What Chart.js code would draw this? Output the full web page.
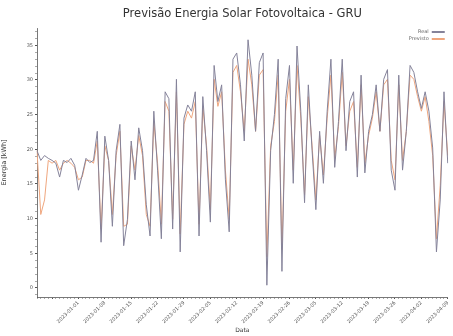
<!DOCTYPE html>
<html>
<head>
<meta charset="utf-8">
<script src="https://cdn.jsdelivr.net/npm/chart.js@4/dist/chart.umd.min.js"></script>
<style>
  html, body { margin: 0; padding: 0; background: #ffffff; }
  #wrap { width: 453px; height: 336px; }
</style>
</head>
<body>
<div id="wrap"><canvas id="c" width="453" height="336"></canvas></div>
<script>
// Daily series: measured energy vs. model forecast (kWh)
const startDay = '2022-12-21';
const seriesNames = ['Real', 'Previsto'];
const chartTitle = 'Previsão Energia Solar Fotovoltaica - GRU';

const real = [
  19.8, 18.4, 19.1, 18.7, 18.4, 18.0, 16.0, 18.4, 18.1, 18.7,
  17.7, 14.1, 16.3, 18.7, 18.1, 18.4, 22.6, 6.6, 21.9, 18.4,
  8.9, 19.8, 23.6, 6.1, 9.9, 21.2, 15.6, 23.1, 19.8, 12.0,
  7.5, 25.5, 17.0, 7.1, 28.3, 27.3, 8.5, 30.1, 5.2, 24.5,
  26.4, 25.5, 28.3, 7.5, 27.6, 19.8, 9.5, 32.1, 26.9, 29.3,
  15.6, 8.1, 33.0, 33.9, 29.3, 21.2, 35.8, 30.7, 22.6, 32.5,
  33.9, 0.4, 19.8, 25.0, 33.0, 2.4, 27.3, 32.1, 15.1, 34.9,
  25.5, 12.3, 29.3, 19.8, 11.3, 22.6, 15.1, 25.5, 33.0, 17.4,
  24.0, 33.0, 19.8, 26.9, 28.3, 16.0, 30.7, 16.6, 22.6, 25.0,
  29.3, 22.6, 30.1, 31.5, 17.0, 14.1, 30.7, 17.0, 22.6, 32.1,
  31.1, 28.3, 25.9, 28.3, 25.5, 20.2, 5.2, 12.7, 28.3, 18.0
];

const previsto = [
  19.8, 10.6, 12.7, 18.4, 18.0, 18.4, 17.0, 18.0, 18.4, 18.0,
  17.4, 15.6, 16.0, 18.4, 18.4, 18.0, 21.2, 8.5, 20.5, 18.4,
  10.6, 19.1, 22.6, 8.9, 9.2, 20.5, 17.0, 22.0, 19.1, 10.6,
  8.9, 24.0, 18.0, 9.2, 26.9, 25.5, 9.9, 28.3, 7.8, 23.6,
  25.5, 24.5, 26.9, 9.2, 26.2, 20.5, 11.3, 30.1, 26.2, 28.3,
  17.0, 9.9, 31.1, 32.1, 28.3, 22.6, 33.0, 29.3, 22.6, 30.7,
  31.5, 4.5, 20.5, 24.0, 30.7, 5.5, 25.5, 30.1, 17.0, 32.1,
  24.5, 13.4, 27.6, 20.5, 12.7, 22.0, 16.3, 24.5, 30.7, 18.7,
  23.3, 31.1, 20.5, 25.5, 26.9, 17.4, 29.3, 18.0, 22.0, 24.5,
  28.3, 22.6, 29.3, 30.1, 18.4, 15.6, 29.3, 18.4, 22.6, 30.7,
  30.1, 27.6, 25.5, 27.6, 24.0, 19.1, 7.1, 14.8, 26.9, 19.1
];

// Major y ticks (labelled) every 5 kWh, minor every 1 kWh
const yMajorStep = 5;
const yRange = [-1.3, 37.5];
// Date labels shown weekly, first one on the 12th day
const firstLabelIndex = 11;
const labelEvery = 7;

function isoDate(d) {
  return d.toISOString().slice(0, 10);
}
const days = [];
{
  const d0 = new Date(startDay + 'T00:00:00Z');
  for (let i = 0; i < real.length; i++) {
    days.push(isoDate(new Date(d0.getTime() + i * 86400000)));
  }
}

const FONT = 'DejaVu Sans';
const colReal = '#85839a';
const colPrev = '#efa67e';

// Title centred over the plot area, legend in its top-right corner
const decorations = {
  id: 'decorations',
  afterDraw(chart) {
    const { ctx, chartArea } = chart;
    ctx.save();
    ctx.font = '11.5px ' + FONT;
    ctx.fillStyle = '#333';
    ctx.textAlign = 'center';
    ctx.textBaseline = 'middle';
    ctx.fillText(chartTitle, (chartArea.left + chartArea.right) / 2, 14);

    const right = chartArea.right - 3;
    const rows = [
      { text: seriesNames[0], color: colReal, y: chartArea.top + 4 },
      { text: seriesNames[1], color: colPrev, y: chartArea.top + 11 }
    ];
    ctx.font = '5px ' + FONT;
    ctx.textAlign = 'right';
    rows.forEach(r => {
      ctx.fillStyle = '#666';
      ctx.fillText(r.text, right - 16, r.y);
      ctx.strokeStyle = r.color;
      ctx.lineWidth = 2;
      ctx.beginPath();
      ctx.moveTo(right - 13, r.y);
      ctx.lineTo(right, r.y);
      ctx.stroke();
    });
    ctx.restore();
  }
};

new Chart(document.getElementById('c'), {
  type: 'line',
  data: {
    labels: days,
    datasets: [
      {
        label: seriesNames[0],
        data: real,
        borderColor: colReal,
        borderWidth: 1,
        pointRadius: 0,
        tension: 0
      },
      {
        label: seriesNames[1],
        data: previsto,
        borderColor: colPrev,
        borderWidth: 1,
        pointRadius: 0,
        tension: 0
      }
    ]
  },
  options: {
    responsive: false,
    animation: false,
    devicePixelRatio: 1,
    layout: { padding: { left: 0, right: 0, top: 28, bottom: 0 } },
    plugins: {
      legend: { display: false },
      tooltip: { enabled: false },
      title: { display: false }
    },
    scales: {
      x: {
        type: 'category',
        offset: false,
        border: { display: true, color: '#555', width: 0.8 },
        grid: {
          display: true,
          drawOnChartArea: false,
          drawTicks: true,
          tickLength: 2,
          color: (c) => ((c.index - firstLabelIndex) % labelEvery === 0 ? '#555' : '#aaa')
        },
        ticks: {
          autoSkip: false,
          minRotation: 45,
          maxRotation: 45,
          padding: 1,
          color: '#555',
          font: { family: FONT, size: 5 },
          callback: (v, i) => (i >= firstLabelIndex && (i - firstLabelIndex) % labelEvery === 0 ? days[i] : '')
        },
        title: {
          display: true,
          text: 'Data',
          color: '#333',
          font: { family: FONT, size: 6 },
          padding: { top: 0, bottom: 2 }
        },
        afterFit(scale) { scale.height = 39; }
      },
      y: {
        min: yRange[0],
        max: yRange[1],
        border: { display: true, color: '#555', width: 0.8 },
        grid: {
          display: true,
          drawOnChartArea: false,
          drawTicks: true,
          tickLength: 2,
          color: (c) => (c.tick && c.tick.value % yMajorStep === 0 ? '#555' : '#aaa')
        },
        ticks: {
          stepSize: 1,
          autoSkip: false,
          includeBounds: false,
          padding: 2,
          color: '#555',
          font: { family: FONT, size: 5 },
          callback: (v) => (v % yMajorStep === 0 ? v : '')
        },
        title: {
          display: true,
          text: 'Energia [kWh]',
          color: '#333',
          font: { family: FONT, size: 6.5 },
          padding: { top: 0, bottom: 4 }
        },
        afterFit(scale) { scale.width = 37; }
      }
    }
  },
  plugins: [decorations]
});
</script>
</body>
</html>
